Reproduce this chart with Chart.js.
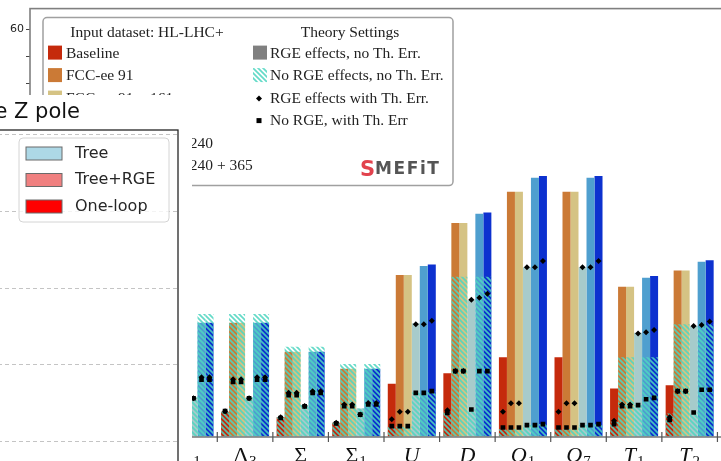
<!DOCTYPE html>
<html>
<head>
<meta charset="utf-8">
<script src="https://cdn.jsdelivr.net/npm/chart.js@4/dist/chart.umd.min.js"></script>
<style>
  html, body { margin: 0; padding: 0; background: #fff; overflow: hidden; width: 721px; height: 461px; }
  #main { position: absolute; left: 0; top: 0; }
  #panelBox { position: absolute; left: 0; top: 95px; width: 192px; height: 366px; overflow: hidden; background: #fff; }
  #panel { position: absolute; left: -300px; top: 0; }
</style>
</head>
<body>
<canvas id="main" width="770" height="480" style="width:770px;height:480px"></canvas>
<div id="panelBox"><canvas id="panel" width="492" height="440" style="width:492px;height:440px"></canvas></div>
<script>
// ---- heavy-field bounds per input dataset ----
const categories = ['N', 'E', 'Δ_1', 'Δ_3', 'Σ', 'Σ_1', 'U', 'D', 'Q_1', 'Q_7', 'T_1', 'T_2'];

const datasetLabels = [
  'Baseline',
  'FCC-ee 91',
  'FCC-ee 91 + 161',
  'FCC-ee 240',
  'FCC-ee 91 + 161 + 240',
  'FCC-ee 91 + 161 + 240 + 365'
];
const datasetColors = ['#c52a0c', '#cb7a36', '#d5c384', '#a7cbcb', '#4f9fcf', '#0d31cf'];

// RGE effects, no theory error (solid bars)
const rgeNoThErr = [
  [null, null, 3.7, 3.7, 2.9, 2.1, 7.85, 9.4, 11.75, 11.75, 7.15, 7.6],
  [null, null, 16.8, 16.8, 12.55, 10.05, 23.85, 31.5, 36.1, 36.1, 22.1, 24.5],
  [null, null, 16.8, 16.8, 12.55, 10.05, 23.85, 31.5, 36.1, 36.1, 22.1, 24.5],
  [null, null, 5.8, 5.8, 4.7, 4.2, 16.75, 20.2, 25.0, 25.0, 15.35, 16.35],
  [null, null, 16.8, 16.8, 12.55, 10.05, 25.15, 32.85, 38.15, 38.15, 23.45, 25.8],
  [null, null, 16.8, 16.8, 12.55, 10.05, 25.4, 33.05, 38.4, 38.4, 23.7, 26.0]
];
// no RGE effects, no theory error (hatched bars)
const noRgeNoThErr = [
  [null, null, 3.7, 3.7, 2.9, 2.1, 1.5, 3.7, 1.15, 1.15, 2.25, 3.45],
  [null, null, 18.1, 18.1, 13.3, 10.75, 1.5, 23.6, 1.15, 1.15, 11.75, 16.6],
  [null, null, 18.1, 18.1, 13.3, 10.75, 1.5, 23.6, 1.15, 1.15, 11.75, 16.6],
  [null, null, 5.8, 5.8, 4.7, 4.2, 6.55, 4.05, 1.75, 1.75, 4.7, 3.6],
  [null, null, 18.1, 18.1, 13.3, 10.75, 6.55, 23.6, 1.75, 1.75, 11.75, 16.6],
  [null, null, 18.1, 18.1, 13.3, 10.75, 6.75, 23.6, 1.9, 1.9, 11.75, 16.6]
];
// RGE effects with theory error (diamond markers)
const rgeThErr = [
  [null, null, 3.8, 3.8, 2.9, 2.1, 2.6, 3.95, 3.7, 3.7, 2.4, 2.9],
  [null, null, 8.5, 8.5, 6.5, 4.8, 3.7, 9.7, 4.95, 4.95, 4.8, 6.75],
  [null, null, 8.5, 8.5, 6.5, 4.8, 3.7, 9.7, 4.95, 4.95, 4.8, 6.75],
  [null, null, 5.7, 5.7, 4.55, 3.3, 16.6, 20.2, 25.0, 25.0, 15.25, 16.35],
  [null, null, 8.8, 8.8, 6.75, 5.0, 16.6, 20.5, 25.0, 25.0, 15.4, 16.5],
  [null, null, 8.8, 8.8, 6.75, 5.0, 17.1, 21.1, 25.9, 25.9, 15.75, 17.0]
];
// no RGE, with theory error (square markers)
const noRgeThErr = [
  [null, null, 3.8, 3.8, 2.8, 2.0, 1.6, 3.55, 1.4, 1.4, 1.9, 2.5],
  [null, null, 8.1, 8.1, 6.15, 4.55, 1.6, 9.7, 1.4, 1.4, 4.55, 6.75],
  [null, null, 8.1, 8.1, 6.15, 4.55, 1.6, 9.7, 1.4, 1.4, 4.55, 6.75],
  [null, null, 5.7, 5.7, 4.5, 3.3, 6.5, 4.05, 1.75, 1.75, 4.7, 3.6],
  [null, null, 8.45, 8.45, 6.5, 4.8, 6.5, 9.7, 1.75, 1.75, 5.55, 6.95],
  [null, null, 8.45, 8.45, 6.5, 4.8, 6.75, 9.7, 1.9, 1.9, 5.75, 6.95]
];
const theoryLabels = ['RGE effects, no Th. Err.', 'No RGE effects, no Th. Err.', 'RGE effects with Th. Err.', 'No RGE, with Th. Err'];
const yTickValues = [0, 2, 4, 6, 8, 10, 12, 14, 16, 18, 20, 22, 24, 26, 28, 30, 32, 34, 36, 38, 40, 42, 44, 46, 48, 50, 52, 54, 56, 58, 60, 62];

// ---- second panel (Z-pole comparison) ----
const panelTitle = 'Bounds at the Z pole';
const panelSeries = ['Tree', 'Tree+RGE', 'One-loop'];
const panelColors = ['#add8e6', '#f08080', '#ff0000'];
const panelTicks = [0, 1, 2, 3, 4, 5];

// ---------------------------------------------------------------
const GROUP = 0.864;           // share of a category slot used by one bar group
const NB = datasetLabels.length;
const SERIF = '"Liberation Serif", "DejaVu Serif", serif';

function hatchPattern() {
  const n = 5;
  const c = document.createElement('canvas');
  c.width = n; c.height = n;
  const g = c.getContext('2d');
  g.strokeStyle = 'rgba(78, 214, 192, 0.88)';
  g.lineWidth = 1.7;
  g.beginPath();
  g.moveTo(-1, -1); g.lineTo(n + 1, n + 1);
  g.moveTo(-1, n - 1); g.lineTo(1, n + 1);
  g.moveTo(n - 1, -1); g.lineTo(n + 1, 1);
  g.stroke();
  return document.createElement('canvas').getContext('2d').createPattern(c, 'repeat');
}
const hatch = hatchPattern();

const toPoints = (row, shift) => row
  .map((v, i) => (v == null ? null : { x: i + shift, y: v }))
  .filter(Boolean);
const slotShift = k => (k - (NB - 1) / 2) * GROUP / NB;

const solidSets = datasetLabels.map((lab, k) => ({
  type: 'bar', label: lab, data: toPoints(rgeNoThErr[k], 0),
  backgroundColor: datasetColors[k], borderWidth: 0, stack: 's' + k, order: 3,
  categoryPercentage: GROUP, barPercentage: 1
}));
const hatchSets = datasetLabels.map((lab, k) => ({
  type: 'bar', label: lab + ' / ' + theoryLabels[1], data: toPoints(noRgeNoThErr[k], 0),
  backgroundColor: hatch, borderWidth: 0, stack: 's' + k, order: 2,
  categoryPercentage: GROUP, barPercentage: 1
}));
const diamondPts = [], squarePts = [];
for (let k = 0; k < NB; k++) {
  diamondPts.push(...toPoints(rgeThErr[k], slotShift(k)));
  squarePts.push(...toPoints(noRgeThErr[k], slotShift(k)));
}
const markerSets = [
  { type: 'line', label: theoryLabels[3], data: squarePts, showLine: false, pointStyle: 'rect',
    pointRadius: 3.3, backgroundColor: '#000', borderColor: '#000', borderWidth: 0, order: 1 },
  { type: 'line', label: theoryLabels[2], data: diamondPts, showLine: false, pointStyle: 'rectRot',
    pointRadius: 3, backgroundColor: '#000', borderColor: '#000', borderWidth: 0, order: 0 }
];

function splitLabel(s) {
  const [base, sub] = s.split('_');
  return { base, sub: sub || '' };
}

const mainDecor = {
  id: 'mainDecor',
  afterDatasetsDraw(chart) {
    const { ctx, chartArea: ca, scales: { x } } = chart;
    ctx.save();
    // frame
    ctx.strokeStyle = '#7f7f7f';
    ctx.lineWidth = 1.6;
    ctx.strokeRect(ca.left, ca.top, ca.right - ca.left, ca.bottom - ca.top);
    // boundary ticks between groups
    ctx.strokeStyle = '#555';
    ctx.lineWidth = 1.2;
    for (let i = -1; i < categories.length; i++) {
      const px = x.getPixelForValue(i + 0.5);
      ctx.beginPath();
      ctx.moveTo(px, ca.bottom - 5);
      ctx.lineTo(px, ca.bottom + 5);
      ctx.stroke();
    }
    // category labels with subscripts
    ctx.fillStyle = '#111';
    ctx.textBaseline = 'alphabetic';
    categories.forEach((c, i) => {
      const { base, sub } = splitLabel(c);
      const italic = /[A-Za-z]/.test(base);
      const bf = (italic ? 'italic ' : '') + '22px ' + SERIF;
      const sf = '15px ' + SERIF;
      ctx.font = bf; const wb = ctx.measureText(base).width;
      ctx.font = sf; const ws = sub ? ctx.measureText(sub).width + 1 : 0;
      const cx = x.getPixelForValue(i);
      const x0 = cx - (wb + ws) / 2;
      ctx.font = bf; ctx.textAlign = 'left';
      ctx.fillText(base, x0, ca.bottom + 25);
      if (sub) { ctx.font = sf; ctx.fillText(sub, x0 + wb + 1, ca.bottom + 29); }
    });
    ctx.restore();
  },
  afterDraw(chart) {
    const { ctx, chartArea: ca } = chart;
    ctx.save();
    const bx = ca.left + 13, by = ca.top + 9, bw = 410, bh = 168;
    ctx.beginPath();
    ctx.roundRect(bx, by, bw, bh, 4);
    ctx.fillStyle = 'rgba(255,255,255,0.9)';
    ctx.fill();
    ctx.strokeStyle = '#a0a0a0';
    ctx.lineWidth = 1.5;
    ctx.stroke();

    ctx.fillStyle = '#222';
    ctx.font = '15.5px ' + SERIF;
    ctx.textBaseline = 'middle';
    ctx.textAlign = 'center';
    ctx.fillText('Input dataset: HL-LHC+', bx + 104, by + 15.5);
    ctx.fillText('Theory Settings', bx + 307, by + 15.5);

    ctx.textAlign = 'left';
    const rowY = r => by + 35 + 22.5 * r;
    datasetLabels.forEach((lab, k) => {
      const y = rowY(k);
      ctx.fillStyle = datasetColors[k];
      ctx.fillRect(bx + 5, y - 7, 14, 14);
      ctx.fillStyle = '#222';
      ctx.fillText(lab, bx + 23, y + 1);
    });
    // theory settings column
    const tx = bx + 210;
    ctx.fillStyle = '#808080';
    ctx.fillRect(tx, rowY(0) - 7, 14, 14);
    ctx.fillStyle = hatch;
    ctx.fillRect(tx, rowY(1) - 7, 14, 14);
    ctx.fillStyle = '#000';
    const dy = rowY(2) + 1;
    ctx.beginPath();
    ctx.moveTo(tx + 6, dy - 3); ctx.lineTo(tx + 9, dy); ctx.lineTo(tx + 6, dy + 3); ctx.lineTo(tx + 3, dy);
    ctx.closePath(); ctx.fill();
    ctx.fillRect(tx + 3.5, rowY(3) + 0.5 - 2.5, 5, 5);
    ctx.fillStyle = '#222';
    theoryLabels.forEach((t, r) => ctx.fillText(t, tx + 17, rowY(r) + 1));

    // MEFiT mark
    ctx.textBaseline = 'alphabetic';
    ctx.fillStyle = '#e2424d';
    ctx.font = 'bold 21px "DejaVu Sans"';
    ctx.fillText('S', bx + 317, by + 158);
    ctx.fillStyle = '#555';
    ctx.font = 'bold 17px "DejaVu Sans"';
    ctx.letterSpacing = '1.6px';
    ctx.fillText('MEFiT', bx + 332, by + 156.5);
    ctx.letterSpacing = '0px';
    ctx.restore();
  }
};

new Chart(document.getElementById('main'), {
  type: 'bar',
  data: { datasets: [...markerSets, ...hatchSets, ...solidSets] },
  options: {
    responsive: false,
    animation: false,
    devicePixelRatio: 1,
    layout: { padding: { top: 6, right: 32, left: 0, bottom: 0 } },
    plugins: { legend: { display: false }, tooltip: { enabled: false }, title: { display: false } },
    scales: {
      x: {
        type: 'linear', min: -0.87, max: 11.87, offset: false,
        grid: { display: false }, border: { display: false },
        ticks: { display: false },
        afterBuildTicks: s => { s.ticks = categories.map((_, i) => ({ value: i })); },
        afterFit: s => { s.height = 43; }
      },
      y: {
        type: 'linear', min: 0, max: 63.05, stacked: false,
        grid: { drawOnChartArea: false, drawTicks: true, tickLength: 4, tickColor: '#444', tickWidth: 1 },
        border: { display: false },
        ticks: {
          padding: 2, color: '#222', font: { family: 'DejaVu Sans', size: 11 },
          callback: v => (v % 10 === 0 ? String(v) : '')
        },
        afterBuildTicks: s => { s.ticks = yTickValues.map(v => ({ value: v })); },
        afterFit: s => { s.width = 30; }
      }
    }
  },
  plugins: [mainDecor]
});

// ---- Z-pole panel ----
const panelDecor = {
  id: 'panelDecor',
  afterDraw(chart) {
    const { ctx, chartArea: ca } = chart;
    ctx.save();
    ctx.strokeStyle = '#262626';
    ctx.lineWidth = 1.3;
    ctx.strokeRect(ca.left, ca.top, ca.right - ca.left, ca.bottom - ca.top);

    ctx.fillStyle = '#111';
    ctx.font = '21px "DejaVu Sans"';
    ctx.textAlign = 'right';
    ctx.textBaseline = 'alphabetic';
    ctx.fillText(panelTitle, ca.right - 98, ca.top - 12);

    const bx = ca.right - 159, by = ca.top + 8, bw = 150, bh = 84;
    ctx.beginPath();
    ctx.roundRect(bx, by, bw, bh, 4);
    ctx.fillStyle = 'rgba(255,255,255,0.8)';
    ctx.fill();
    ctx.strokeStyle = '#d4d4d4';
    ctx.lineWidth = 1;
    ctx.stroke();
    ctx.textAlign = 'left';
    ctx.textBaseline = 'middle';
    ctx.font = '16px "DejaVu Sans"';
    chart.data.datasets.forEach((ds, k) => {
      const y = by + 15.5 + 26.5 * k;
      ctx.fillStyle = ds.backgroundColor;
      ctx.fillRect(bx + 7, y - 6.5, 36, 13);
      ctx.strokeStyle = '#6a6a6a';
      ctx.lineWidth = 1;
      ctx.strokeRect(bx + 7, y - 6.5, 36, 13);
      ctx.fillStyle = '#262626';
      ctx.fillText(ds.label, bx + 56, y);
    });
    ctx.restore();
  }
};

new Chart(document.getElementById('panel'), {
  type: 'bar',
  data: {
    labels: [],
    datasets: panelSeries.map((s, k) => ({ label: s, data: [], backgroundColor: panelColors[k] }))
  },
  options: {
    responsive: false,
    animation: false,
    devicePixelRatio: 1,
    layout: { padding: { top: 35, right: 14, left: 0, bottom: 17 } },
    plugins: { legend: { display: false }, tooltip: { enabled: false }, title: { display: false } },
    scales: {
      x: { display: false },
      y: {
        min: 0, max: 5.065,
        ticks: { display: false },
        grid: { color: '#c4c4c4', lineWidth: 1, drawTicks: false },
        border: { display: false, dash: [4, 3] },
        afterBuildTicks: s => { s.ticks = panelTicks.map(v => ({ value: v })); },
        afterFit: s => { s.width = 60; }
      }
    }
  },
  plugins: [panelDecor]
});
</script>
</body>
</html>
